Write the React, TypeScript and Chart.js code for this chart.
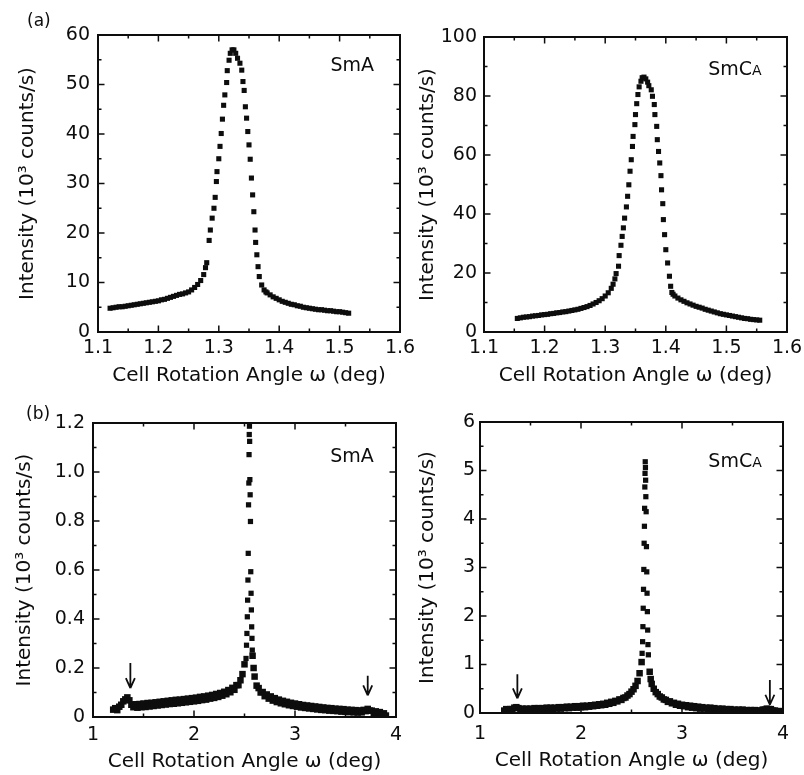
import React, { useEffect, useRef } from "react";
import { Chart, registerables } from "chart.js";

Chart.register(...registerables);

const INK = "#0d0d0d";
const FONT = '"DejaVu Sans", "Liberation Sans", sans-serif';

const X_TITLE = "Cell Rotation Angle \u03c9 (deg)";
const Y_TITLE = "Intensity (10\u00b3 counts/s)";

// ---------- (a) SmA ----------
const aSmA_x = [1.120,1.125,1.130,1.135,1.140,1.145,1.150,1.155,1.160,1.165,1.170,1.175,1.180,1.185,1.190,1.195,1.200,1.205,1.210,1.215,1.220,1.225,1.230,1.235,1.240,1.245,1.250,1.255,1.260,1.265,1.270,1.275,1.278,1.280,
  1.284,1.286,1.289,1.292,1.294,1.296,1.297,1.300,1.302,1.304,1.306,1.308,1.310,1.313,1.314,1.317,1.319,1.322,1.325,1.328,1.331,1.335,1.338,1.340,1.342,1.344,1.346,1.348,1.350,1.352,1.354,1.356,1.358,1.360,1.361,1.363,1.365,1.367,1.371,1.375,
  1.378,1.380,1.385,1.390,1.395,1.400,1.405,1.410,1.415,1.420,1.425,1.430,1.435,1.440,1.445,1.450,1.455,1.460,1.465,1.470,1.475,1.480,1.485,1.490,1.495,1.500,1.505,1.510,1.515];
const aSmA_y = [4.8,4.9,5.0,5.1,5.1,5.2,5.3,5.4,5.5,5.6,5.7,5.8,5.9,6.0,6.1,6.2,6.3,6.5,6.6,6.8,7.0,7.2,7.4,7.6,7.7,7.9,8.1,8.5,9.0,9.6,10.4,11.6,13.0,14.0,
  18.5,20.6,23.0,25.0,27.2,30.4,32.4,35.0,37.5,40.1,43.0,45.8,47.9,50.4,52.8,54.9,56.3,57.0,57.0,56.3,55.3,54.3,52.9,50.6,48.8,45.5,43.2,40.5,37.8,34.9,31.1,27.7,24.3,20.6,18.1,15.6,13.2,11.2,9.5,8.5,
  8.1,7.9,7.5,7.1,6.8,6.5,6.2,6.0,5.8,5.6,5.5,5.3,5.2,5.0,4.9,4.8,4.7,4.6,4.5,4.5,4.4,4.3,4.3,4.2,4.1,4.1,4.0,3.9,3.8];

// ---------- (a) SmCA ----------
const aSmCA_x = [1.155,1.160,1.165,1.170,1.175,1.180,1.185,1.190,1.195,1.200,1.205,1.210,1.215,1.220,1.225,1.230,1.235,1.240,1.245,1.250,1.255,1.260,1.265,1.270,1.275,1.280,1.285,1.290,1.295,1.300,1.305,1.310,1.313,1.316,1.318,
  1.322,1.323,1.326,1.328,1.330,1.332,1.335,1.337,1.339,1.341,1.343,1.345,1.346,1.349,1.350,1.352,1.354,1.356,1.359,1.361,1.364,1.367,1.370,1.372,1.376,1.378,1.381,1.382,1.385,1.386,1.388,1.390,1.392,1.393,1.395,1.396,1.398,1.400,1.403,1.406,1.408,1.410,
  1.412,1.415,1.420,1.425,1.430,1.435,1.440,1.445,1.450,1.455,1.460,1.465,1.470,1.475,1.480,1.485,1.490,1.495,1.500,1.505,1.510,1.515,1.520,1.525,1.530,1.535,1.540,1.545,1.550,1.555];
const aSmCA_y = [4.6,4.8,5.0,5.1,5.2,5.4,5.5,5.6,5.8,5.9,6.0,6.2,6.3,6.5,6.6,6.8,6.9,7.1,7.3,7.5,7.7,8.0,8.3,8.6,9.0,9.5,10.0,10.6,11.3,12.2,13.3,14.8,16.2,18.0,19.8,
  22.3,25.9,29.4,32.4,35.3,38.6,42.4,46.0,49.9,54.5,58.4,62.9,66.3,70.3,73.7,77.4,80.5,83.1,85.0,86.2,86.4,85.8,84.7,83.5,82.1,79.9,77.1,73.7,69.7,65.2,61.2,57.3,53.0,48.2,43.5,38.1,33.0,27.9,23.4,18.9,15.5,13.4,
  12.8,12.2,11.5,10.9,10.4,9.9,9.5,9.1,8.7,8.4,8.1,7.7,7.4,7.1,6.8,6.5,6.2,6.0,5.8,5.6,5.4,5.2,5.0,4.8,4.6,4.5,4.3,4.2,4.1,4.0];

// ---------- (b) SmA ----------
const bSmA_leftX = [1.20,1.22,1.24,1.26,1.28,1.30,1.32,1.34,1.36,1.38,1.40,1.42,1.44,1.46,1.48,1.50,1.52,1.54,1.56,1.58,1.60,1.62,1.64,1.66,1.68,1.70,1.72,1.74,1.76,1.78,1.80,1.82,1.84,1.86,1.88,1.90,1.92,1.94,1.96,1.98,2.00,2.02,2.04,2.06,2.08,2.10,2.12,2.14,2.16,2.18,2.20,2.22,2.24,2.26,2.28,2.30,2.32,2.34,2.36,2.38,2.40,2.42,2.44,2.46,2.48,2.50];
const bSmA_leftY = [0.030,0.036,0.028,0.042,0.050,0.064,0.072,0.080,0.068,0.050,0.040,0.052,0.038,0.053,0.040,0.055,0.041,0.057,0.043,0.058,0.045,0.060,0.047,0.062,0.049,0.064,0.051,0.066,0.053,0.068,0.054,0.070,0.056,0.071,0.058,0.073,0.060,0.075,0.062,0.077,0.064,0.079,0.066,0.082,0.069,0.084,0.071,0.087,0.075,0.090,0.078,0.094,0.082,0.098,0.087,0.103,0.093,0.110,0.101,0.119,0.111,0.130,0.130,0.150,0.175,0.215];
const bSmA_peakX = [2.515,2.520,2.524,2.528,2.531,2.534,2.537,2.540,2.543,2.545,2.547,2.549,2.551,2.553,2.556,2.559,2.562,2.565,2.568,2.571,2.574,2.577];
const bSmA_peakY = [0.239,0.293,0.341,0.409,0.477,0.559,0.668,0.866,0.955,1.071,1.153,1.187,1.125,0.969,0.907,0.798,0.593,0.505,0.437,0.368,0.321,0.273];
const bSmA_rightX = [2.58,2.59,2.60,2.62,2.64,2.66,2.68,2.70,2.72,2.74,2.76,2.78,2.80,2.82,2.84,2.86,2.88,2.90,2.92,2.94,2.96,2.98,3.00,3.02,3.04,3.06,3.08,3.10,3.12,3.14,3.16,3.18,3.20,3.22,3.24,3.26,3.28,3.30,3.32,3.34,3.36,3.38,3.40,3.42,3.44,3.46,3.48,3.50,3.52,3.54,3.56,3.58,3.60,3.62,3.64,3.66,3.68,3.70,3.72,3.74,3.76,3.78,3.80,3.82,3.84,3.86,3.88,3.90];
const bSmA_rightY = [0.250,0.200,0.165,0.128,0.118,0.100,0.102,0.085,0.092,0.075,0.084,0.067,0.077,0.061,0.071,0.056,0.066,0.052,0.062,0.048,0.058,0.045,0.055,0.042,0.052,0.039,0.049,0.037,0.047,0.035,0.045,0.033,0.043,0.031,0.041,0.029,0.039,0.028,0.037,0.026,0.036,0.025,0.034,0.024,0.033,0.022,0.032,0.021,0.030,0.020,0.029,0.019,0.028,0.018,0.027,0.019,0.029,0.024,0.033,0.026,0.026,0.017,0.023,0.014,0.020,0.011,0.015,0.006];

// ---------- (b) SmCA ----------
const bSmCA_leftX = [1.24,1.26,1.28,1.30,1.32,1.34,1.36,1.38,1.40,1.42,1.44,1.46,1.48,1.50,1.52,1.54,1.56,1.58,1.60,1.62,1.64,1.66,1.68,1.70,1.72,1.74,1.76,1.78,1.80,1.82,1.84,1.86,1.88,1.90,1.92,1.94,1.96,1.98,2.00,2.02,2.04,2.06,2.08,2.10,2.12,2.14,2.16,2.18,2.20,2.22,2.24,2.26,2.28,2.30,2.32,2.34,2.36,2.38,2.40,2.42,2.44,2.46,2.48,2.50,2.52,2.54,2.56,2.58,2.60];
const bSmCA_leftY = [0.05,0.08,0.05,0.08,0.08,0.11,0.12,0.10,0.06,0.09,0.06,0.09,0.06,0.09,0.07,0.10,0.07,0.10,0.07,0.10,0.08,0.11,0.08,0.11,0.08,0.11,0.09,0.12,0.09,0.12,0.10,0.13,0.10,0.13,0.11,0.14,0.11,0.14,0.12,0.15,0.12,0.15,0.13,0.16,0.14,0.17,0.15,0.18,0.16,0.19,0.17,0.21,0.19,0.23,0.21,0.25,0.24,0.28,0.27,0.31,0.32,0.36,0.39,0.44,0.49,0.56,0.66,0.82,1.05];
const bSmCA_peakX = [2.605,2.610,2.613,2.616,2.619,2.622,2.625,2.628,2.630,2.632,2.634,2.636,2.638,2.640,2.642,2.645,2.648,2.651,2.654,2.657,2.660,2.663,2.667];
const bSmCA_peakY = [1.23,1.47,1.78,2.16,2.55,2.96,3.50,3.85,4.22,4.66,4.94,5.18,5.06,4.80,4.46,4.15,3.43,2.91,2.47,2.09,1.71,1.41,1.20];
const bSmCA_rightX = [2.68,2.69,2.70,2.72,2.74,2.76,2.78,2.80,2.82,2.84,2.86,2.88,2.90,2.92,2.94,2.96,2.98,3.00,3.02,3.04,3.06,3.08,3.10,3.12,3.14,3.16,3.18,3.20,3.22,3.24,3.26,3.28,3.30,3.32,3.34,3.36,3.38,3.40,3.42,3.44,3.46,3.48,3.50,3.52,3.54,3.56,3.58,3.60,3.62,3.64,3.66,3.68,3.70,3.72,3.74,3.76,3.78,3.80,3.82,3.84,3.86,3.88,3.90,3.92,3.94,3.96,3.98];
const bSmCA_rightY = [0.85,0.70,0.60,0.50,0.43,0.39,0.34,0.32,0.28,0.27,0.23,0.24,0.20,0.21,0.17,0.19,0.15,0.17,0.14,0.16,0.12,0.15,0.11,0.14,0.10,0.13,0.09,0.12,0.09,0.11,0.08,0.11,0.07,0.10,0.07,0.09,0.06,0.09,0.06,0.08,0.05,0.08,0.05,0.07,0.05,0.07,0.04,0.07,0.04,0.06,0.04,0.06,0.04,0.06,0.04,0.05,0.05,0.07,0.07,0.09,0.08,0.08,0.05,0.05,0.03,0.04,0.02];

// ---------- ticks ----------
const aXTicks = [1.1, 1.2, 1.3, 1.4, 1.5, 1.6];
const aXLabels = ["1.1", "1.2", "1.3", "1.4", "1.5", "1.6"];
const aXMinor = [1.15, 1.25, 1.35, 1.45, 1.55];
const aSmA_yTicks = [0, 10, 20, 30, 40, 50, 60];
const aSmA_yLabels = ["0", "10", "20", "30", "40", "50", "60"];
const aSmA_yMinor = [5, 15, 25, 35, 45, 55];
const aSmCA_yTicks = [0, 20, 40, 60, 80, 100];
const aSmCA_yLabels = ["0", "20", "40", "60", "80", "100"];
const aSmCA_yMinor = [10, 30, 50, 70, 90];
const bXTicks = [1, 2, 3, 4];
const bXLabels = ["1", "2", "3", "4"];
const bXMinor = [1.5, 2.5, 3.5];
const bSmA_yTicks = [0, 0.2, 0.4, 0.6, 0.8, 1.0, 1.2];
const bSmA_yLabels = ["0", "0.2", "0.4", "0.6", "0.8", "1.0", "1.2"];
const bSmA_yMinor = [0.1, 0.3, 0.5, 0.7, 0.9, 1.1];
const bSmCA_yTicks = [0, 1, 2, 3, 4, 5, 6];
const bSmCA_yLabels = ["0", "1", "2", "3", "4", "5", "6"];
const bSmCA_yMinor = [0.5, 1.5, 2.5, 3.5, 4.5, 5.5];

// ---------- annotations ----------
const PHASE_SMA = ["SmA", ""];
const PHASE_SMCA = ["SmC", "A"];
const bSmA_arrowX = [1.37, 3.72];
const bSmA_arrowTop = [0.22, 0.168];
const bSmA_arrowTip = [0.118, 0.088];
const bSmCA_arrowX = [1.37, 3.87];
const bSmCA_arrowTop = [0.80, 0.68];
const bSmCA_arrowTip = [0.30, 0.17];

const zip = (xs: number[], ys: number[]) => {
  const n = Math.min(xs.length, ys.length);
  const out: { x: number; y: number }[] = [];
  for (let i = 0; i < n; i++) out.push({ x: xs[i], y: ys[i] });
  return out;
};

const deco = {
  id: "deco",
  afterDatasetsDraw(chart: any, _args: any, o: any) {
    const { ctx, chartArea: ca } = chart;
    const xs = chart.scales.x;
    const ys = chart.scales.y;
    ctx.save();
    ctx.strokeStyle = INK;
    ctx.lineWidth = 1.5;
    ctx.beginPath();
    const seg = (x1: number, y1: number, x2: number, y2: number) => {
      ctx.moveTo(x1, y1);
      ctx.lineTo(x2, y2);
    };
    const xt = (vals: number[], len: number) =>
      vals.forEach((v) => {
        const p = xs.getPixelForValue(v);
        seg(p, ca.bottom, p, ca.bottom - len);
        seg(p, ca.top, p, ca.top + len);
      });
    const yt = (vals: number[], len: number) =>
      vals.forEach((v) => {
        const p = ys.getPixelForValue(v);
        seg(ca.left, p, ca.left + len, p);
        seg(ca.right, p, ca.right - len, p);
      });
    xt(o.xMajor, 6.5);
    xt(o.xMinor, 3.5);
    yt(o.yMajor, 6.5);
    yt(o.yMinor, 3.5);
    ctx.stroke();
    ctx.lineWidth = 2;
    ctx.strokeRect(ca.left, ca.top, ca.right - ca.left, ca.bottom - ca.top);
    if (o.arrowX) {
      ctx.lineWidth = 1.8;
      ctx.beginPath();
      o.arrowX.forEach((ax: number, i: number) => {
        const px = xs.getPixelForValue(ax);
        const pt = ys.getPixelForValue(o.arrowTop[i]);
        const pb = ys.getPixelForValue(o.arrowTip[i]);
        seg(px, pt, px, pb);
        seg(px - 4.5, pb - 10, px, pb);
        seg(px + 4.5, pb - 10, px, pb);
      });
      ctx.stroke();
    }
    const [main, small] = o.phase;
    const cx = xs.getPixelForValue(o.phaseX);
    const cy = ys.getPixelForValue(o.phaseY);
    ctx.fillStyle = INK;
    ctx.textBaseline = "alphabetic";
    ctx.textAlign = "left";
    ctx.font = `19px ${FONT}`;
    const w1 = ctx.measureText(main).width;
    ctx.font = `14px ${FONT}`;
    const w2 = small ? ctx.measureText(small).width : 0;
    const sx = cx - (w1 + w2) / 2;
    const by = cy + 7;
    ctx.font = `19px ${FONT}`;
    ctx.fillText(main, sx, by);
    if (small) {
      ctx.font = `14px ${FONT}`;
      ctx.fillText(small, sx + w1, by);
    }
    ctx.restore();
  },
};

type Series = { data: { x: number; y: number }[]; radius: number };
type PanelCfg = {
  series: Series[];
  xMin: number; xMax: number; yMin: number; yMax: number;
  xTicks: number[]; xLabels: string[]; xMinor: number[];
  yTicks: number[]; yLabels: string[]; yMinor: number[];
  padTop: number; padRight: number; yW: number; xH: number;
  xTickPad: number; yTickPad: number; xTitlePad: number; yTitlePad: number;
  phase: string[]; phaseX: number; phaseY: number;
  arrowX?: number[]; arrowTop?: number[]; arrowTip?: number[];
};

function buildConfig(c: PanelCfg): any {
  return {
    type: "scatter",
    data: {
      datasets: c.series.map((s) => ({
        data: s.data,
        pointStyle: "rect",
        pointRadius: s.radius,
        pointBackgroundColor: INK,
        pointBorderWidth: 0,
        pointBorderColor: INK,
        showLine: false,
      })),
    },
    options: {
      animation: false,
      responsive: false,
      devicePixelRatio: 1,
      events: [],
      layout: { padding: { left: 0, top: c.padTop, right: c.padRight, bottom: 0 } },
      plugins: {
        legend: { display: false },
        tooltip: { enabled: false },
        deco: {
          xMajor: c.xTicks, xMinor: c.xMinor, yMajor: c.yTicks, yMinor: c.yMinor,
          phase: c.phase, phaseX: c.phaseX, phaseY: c.phaseY,
          arrowX: c.arrowX, arrowTop: c.arrowTop, arrowTip: c.arrowTip,
        },
      },
      scales: {
        x: {
          type: "linear",
          position: "bottom",
          min: c.xMin,
          max: c.xMax,
          afterBuildTicks: (s: any) => {
            s.ticks = c.xTicks.map((v) => ({ value: v }));
          },
          afterFit: (s: any) => {
            s.height = c.xH;
            s.paddingLeft = 0;
            s.paddingRight = 0;
          },
          grid: { display: false, drawTicks: false },
          border: { display: false },
          ticks: {
            autoSkip: false,
            maxRotation: 0,
            minRotation: 0,
            padding: c.xTickPad,
            color: INK,
            font: { family: FONT, size: 19 },
            callback: (_v: any, i: number) => c.xLabels[i],
          },
          title: {
            display: true,
            text: X_TITLE,
            color: INK,
            font: { family: FONT, size: 20 },
            padding: { top: 0, bottom: c.xTitlePad },
          },
        },
        y: {
          type: "linear",
          position: "left",
          min: c.yMin,
          max: c.yMax,
          afterBuildTicks: (s: any) => {
            s.ticks = c.yTicks.map((v) => ({ value: v }));
          },
          afterFit: (s: any) => {
            s.width = c.yW;
            s.paddingTop = 0;
            s.paddingBottom = 0;
          },
          grid: { display: false, drawTicks: false },
          border: { display: false },
          ticks: {
            autoSkip: false,
            padding: c.yTickPad,
            color: INK,
            font: { family: FONT, size: 19 },
            callback: (_v: any, i: number) => c.yLabels[i],
          },
          title: {
            display: true,
            text: Y_TITLE,
            color: INK,
            font: { family: FONT, size: 20 },
            padding: { top: c.yTitlePad, bottom: 0 },
          },
        },
      },
    },
    plugins: [deco],
  };
}

function Panel({ cfg, left, top, width, height }: { cfg: PanelCfg; left: number; top: number; width: number; height: number }) {
  const ref = useRef<HTMLCanvasElement | null>(null);
  useEffect(() => {
    if (!ref.current) return;
    const chart = new Chart(ref.current, buildConfig(cfg));
    return () => chart.destroy();
  }, []);
  return (
    <canvas
      ref={ref}
      width={width}
      height={height}
      style={{ position: "absolute", left, top, width, height }}
    />
  );
}

const panelTL: PanelCfg = {
  series: [{ data: zip(aSmA_x, aSmA_y), radius: 3.6 }],
  xMin: 1.1, xMax: 1.6, yMin: 0, yMax: 60,
  xTicks: aXTicks, xLabels: aXLabels, xMinor: aXMinor,
  yTicks: aSmA_yTicks, yLabels: aSmA_yLabels, yMinor: aSmA_yMinor,
  padTop: 35, padRight: 30, yW: 98, xH: 56,
  xTickPad: 5, yTickPad: 8, xTitlePad: 0, yTitlePad: 16,
  phase: PHASE_SMA, phaseX: 1.521, phaseY: 54.1,
};
const panelTR: PanelCfg = {
  series: [{ data: zip(aSmCA_x, aSmCA_y), radius: 3.6 }],
  xMin: 1.1, xMax: 1.6, yMin: 0, yMax: 100,
  xTicks: aXTicks, xLabels: aXLabels, xMinor: aXMinor,
  yTicks: aSmCA_yTicks, yLabels: aSmCA_yLabels, yMinor: aSmCA_yMinor,
  padTop: 37, padRight: 17, yW: 82, xH: 56,
  xTickPad: 5, yTickPad: 7, xTitlePad: 0, yTitlePad: 14,
  phase: PHASE_SMCA, phaseX: 1.514, phaseY: 89.5,
};
const panelBL: PanelCfg = {
  series: [
    { data: zip(bSmA_leftX, bSmA_leftY), radius: 4.6 },
    { data: zip(bSmA_peakX, bSmA_peakY), radius: 3.7 },
    { data: zip(bSmA_rightX, bSmA_rightY), radius: 4.6 },
  ],
  xMin: 1, xMax: 4, yMin: 0, yMax: 1.2,
  xTicks: bXTicks, xLabels: bXLabels, xMinor: bXMinor,
  yTicks: bSmA_yTicks, yLabels: bSmA_yLabels, yMinor: bSmA_yMinor,
  padTop: 35, padRight: 34, yW: 93, xH: 58,
  xTickPad: 7, yTickPad: 8, xTitlePad: 1, yTitlePad: 13,
  phase: PHASE_SMA, phaseX: 3.564, phaseY: 1.069,
  arrowX: bSmA_arrowX, arrowTop: bSmA_arrowTop, arrowTip: bSmA_arrowTip,
};
const panelBR: PanelCfg = {
  series: [
    { data: zip(bSmCA_leftX, bSmCA_leftY), radius: 4.6 },
    { data: zip(bSmCA_peakX, bSmCA_peakY), radius: 3.7 },
    { data: zip(bSmCA_rightX, bSmCA_rightY), radius: 4.6 },
  ],
  xMin: 1, xMax: 4, yMin: 0, yMax: 6,
  xTicks: bXTicks, xLabels: bXLabels, xMinor: bXMinor,
  yTicks: bSmCA_yTicks, yLabels: bSmCA_yLabels, yMinor: bSmCA_yMinor,
  padTop: 34, padRight: 21, yW: 78, xH: 62,
  xTickPad: 10, yTickPad: 5, xTitlePad: 2, yTitlePad: 14,
  phase: PHASE_SMCA, phaseX: 3.525, phaseY: 5.22,
  arrowX: bSmCA_arrowX, arrowTop: bSmCA_arrowTop, arrowTip: bSmCA_arrowTip,
};

const labelStyle: React.CSSProperties = {
  position: "absolute",
  fontFamily: FONT,
  fontSize: 17,
  lineHeight: "20px",
  color: INK,
};

export default function App() {
  return (
    <div style={{ position: "absolute", left: 0, top: 0, width: 804, height: 775, background: "#fff", overflow: "hidden" }}>
      <Panel cfg={panelTL} left={0} top={0} width={430} height={388} />
      <Panel cfg={panelTR} left={402} top={0} width={402} height={388} />
      <Panel cfg={panelBL} left={0} top={388} width={430} height={387} />
      <Panel cfg={panelBR} left={402} top={388} width={402} height={387} />
      <div style={{ ...labelStyle, left: 27, top: 10 }}>(a)</div>
      <div style={{ ...labelStyle, left: 26, top: 403 }}>(b)</div>
    </div>
  );
}
